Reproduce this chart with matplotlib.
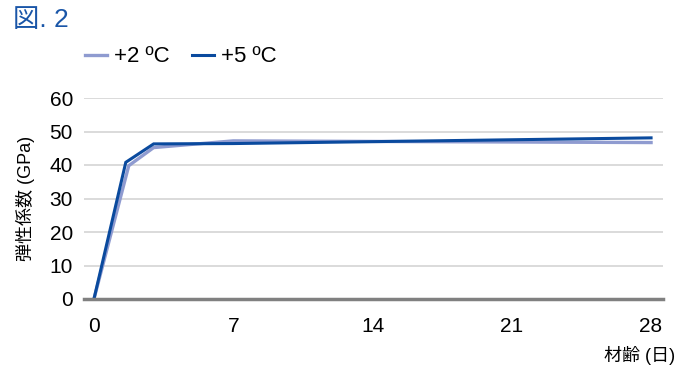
import matplotlib.pyplot as plt

plt.rcParams['font.family'] = ['Liberation Sans', 'Noto Sans CJK JP', 'DejaVu Sans']

# data
days_2 = [0, 1.75, 3, 7, 28]
e_2 = [0, 39.8, 45.2, 47.2, 46.7]
days_5 = [0, 1.6, 3, 7, 28]
e_5 = [0, 40.8, 46.3, 46.4, 48.1]
x_ticks = [0, 7, 14, 21, 28]
y_ticks = [0, 10, 20, 30, 40, 50, 60]

c2 = '#8f9bd0'
c5 = '#0a4a9e'

fig = plt.figure(figsize=(6.79, 3.70), dpi=100)
ax = fig.add_axes([84/679, 1 - 299/370, (663 - 84)/679, (299 - 98)/370])

for y in y_ticks[1:]:
    ax.axhline(y, color='#d4d4d4', lw=1.2, zorder=0)

ax.plot(days_2, e_2, color=c2, lw=2.4, label='+2 ºC', solid_joinstyle='miter')
ax.plot(days_5, e_5, color=c5, lw=2.2, label='+5 ºC', solid_joinstyle='miter')

ax.set_xlim(-0.5, 28.6)
ax.set_ylim(0, 60)
ax.set_xticks(x_ticks)
ax.set_yticks(y_ticks)
ax.tick_params(length=0, labelsize=15)
ax.tick_params(axis='x', pad=13)
ax.tick_params(axis='y', pad=8)
for s in ['top', 'right', 'left']:
    ax.spines[s].set_visible(False)
ax.spines['bottom'].set_color('#808080')
ax.spines['bottom'].set_linewidth(2.5)

fig.text(25/679, 1 - 198/370, '弾性係数 (GPa)', fontsize=13, rotation=90, ha='center', va='center')
fig.text(675/679, 1 - 355/370, '材齢 (日)', fontsize=13, ha='right', va='center')
fig.text(13/679, 1 - 20/370, '図. 2', fontsize=19, color='#1a56a8', ha='left', va='center')

fig.legend(loc='center left', bbox_to_anchor=(85/679, 1 - 57/370), ncol=2, frameon=False,
           fontsize=16, handlelength=1.0, columnspacing=1.0, handletextpad=0.3,
           borderpad=0, borderaxespad=0)

fig.savefig('out.png', dpi=100)
